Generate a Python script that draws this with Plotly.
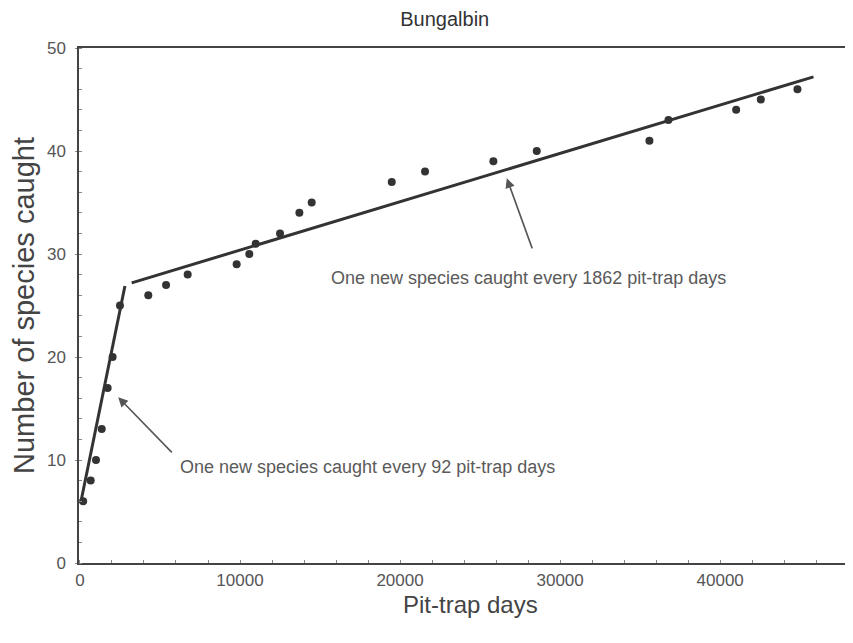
import plotly.graph_objects as go

# Observed data (pit-trap days, cumulative species)
pit_days = [200, 670, 1000, 1360, 1730, 2040, 2500, 4270, 5380, 6730, 9790, 10580,
            10980, 12500, 13710, 14480, 19480, 21560, 25830, 28540, 35580, 36770,
            41000, 42540, 44830]
species = [6, 8, 10, 13, 17, 20, 25, 26, 27, 28, 29, 30,
           31, 32, 34, 35, 37, 38, 39, 40, 41, 43,
           44, 45, 46]

# Fitted regression segments (endpoints)
fit1_x = [40, 2810]
fit1_y = [5.8, 26.9]
fit2_x = [3230, 45830]
fit2_y = [27.2, 47.2]

x_ticks = [0, 10000, 20000, 30000, 40000]
y_ticks = [0, 10, 20, 30, 40, 50]

ink = "#333333"
font = "Liberation Sans, Arial, sans-serif"

fig = go.Figure()
fig.add_trace(go.Scatter(x=fit1_x, y=fit1_y, mode="lines",
                         line=dict(color=ink, width=3), showlegend=False))
fig.add_trace(go.Scatter(x=fit2_x, y=fit2_y, mode="lines",
                         line=dict(color=ink, width=3), showlegend=False))
fig.add_trace(go.Scatter(x=pit_days, y=species, mode="markers",
                         marker=dict(color=ink, size=8), showlegend=False))

fig.add_annotation(x=2390, y=16.1, ax=5830, ay=10.6, xref="x", yref="y", axref="x", ayref="y",
                   text="", showarrow=True, arrowhead=2, arrowsize=1.2, arrowwidth=1.6,
                   arrowcolor="#555555")
fig.add_annotation(x=26670, y=37.35, ax=28290, ay=30.4, xref="x", yref="y", axref="x", ayref="y",
                   text="", showarrow=True, arrowhead=2, arrowsize=1.2, arrowwidth=1.6,
                   arrowcolor="#555555")
fig.add_annotation(x=6120, y=9.3, text="One new species caught every 92 pit-trap days",
                   showarrow=False, xanchor="left", yanchor="middle",
                   font=dict(family=font, size=18, color="#5a5a5a"))
fig.add_annotation(x=15560, y=27.7, text="One new species caught every 1862 pit-trap days",
                   showarrow=False, xanchor="left", yanchor="middle",
                   font=dict(family=font, size=18, color="#5a5a5a"))
# x-axis title placed as a paper annotation for exact placement
fig.add_annotation(x=0.5, y=-0.08, xref="paper", yref="paper", text="Pit-trap days",
                   showarrow=False, xanchor="center", yanchor="middle",
                   font=dict(family=font, size=24, color="#444444"))

fig.update_layout(
    width=853, height=643,
    margin=dict(l=71, r=0, t=40, b=88),
    paper_bgcolor="white", plot_bgcolor="white",
    title=dict(text="Bungalbin", x=0.512, xanchor="center", y=0.983, yanchor="middle",
               font=dict(family=font, size=20, color="#333333")),
    font=dict(family=font, color="#444444"),
    xaxis=dict(range=[-60, 48800], tickvals=x_ticks, ticktext=[str(v) for v in x_ticks],
               showgrid=False, zeroline=False, showline=True, linecolor="#444444", linewidth=1.5,
               mirror=True, ticks="", tickfont=dict(size=17, color="#555555"),
               ticklabelstandoff=1,
               minor=dict(dtick=2000, ticks="inside", ticklen=3, tickcolor="#888888"),
               automargin=False),
    yaxis=dict(range=[0, 50], tickvals=y_ticks, showgrid=False, zeroline=False,
               showline=True, linecolor="#444444", linewidth=1.5, ticks="outside", ticklen=2,
               tickcolor="#888888", tickfont=dict(size=17, color="#555555"),
               ticklabelstandoff=6, automargin=False,
               minor=dict(dtick=2, ticks="inside", ticklen=3, tickcolor="#888888"),
               title=dict(text="Number of species caught", font=dict(size=29, color="#444444"),
                          standoff=6)),
)

fig.write_html("out.html")
